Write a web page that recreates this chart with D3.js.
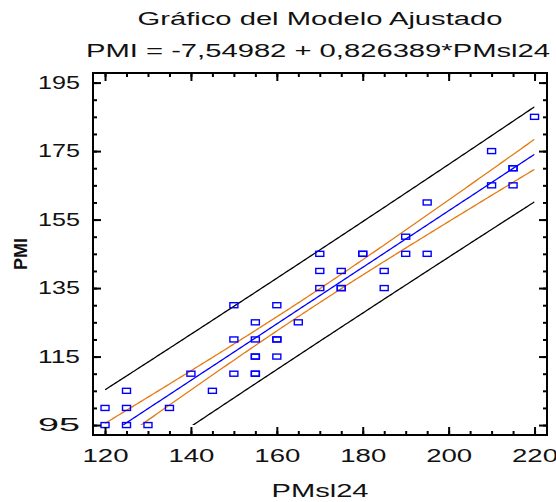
<!DOCTYPE html>
<html lang="es">
<head>
  <meta charset="UTF-8" />
  <title>Gráfico del Modelo Ajustado</title>
  <style>
    body { margin: 0; background: #fff; }
    svg { display: block; }
    text { font-family: "Liberation Sans", Arial, sans-serif; fill: #111; }
  </style>
</head>
<body>
  <div id="chart"></div>

  <script src="https://cdn.jsdelivr.net/npm/d3@7"></script>
  <script>
    // observaciones (PMsl24, PMI)
    const pmsl24 = [120, 120, 125, 125, 125, 130, 135, 140, 145, 150, 150, 150,
      155, 155, 155, 155, 155, 155, 160, 160, 160, 160, 165, 170, 170, 170,
      175, 175, 175, 180, 180, 185, 185, 190, 190, 195, 195, 210, 210, 215,
      215, 215, 220];
    const pmi = [95, 100, 95, 100, 105, 95, 100, 110, 105, 110, 120, 130,
      110, 110, 115, 115, 120, 125, 115, 120, 120, 130, 125, 135, 140, 145,
      135, 135, 140, 145, 145, 135, 140, 145, 150, 145, 160, 165, 175, 165,
      170, 170, 185];

    const xTicks = [120, 140, 160, 180, 200, 220];
    const yTicks = [95, 115, 135, 155, 175, 195];
    const xMinor = d3.range(120, 221, 5);
    const yMinor = d3.range(95, 196, 5);

    const title = "Gráfico del Modelo Ajustado";
    const subtitle = "PMI = -7,54982 + 0,826389*PMsl24";
    const xLabel = "PMsl24";
    const yLabel = "PMI";
    const tCrit = 2.0195; // t(0.975, n-2)

    const width = 556, height = 502;

    const svg = d3.select("#chart").append("svg")
      .attr("width", width)
      .attr("height", height);

    const x = d3.scaleLinear().domain([117.2, 222.9]).range([93, 547]);
    const y = d3.scaleLinear().domain([92.1, 197.8]).range([435, 73]);

    // ajuste por minimos cuadrados
    const n = pmsl24.length;
    const mx = d3.mean(pmsl24), my = d3.mean(pmi);
    let sxx = 0, sxy = 0;
    pmsl24.forEach((v, i) => {
      sxx += (v - mx) * (v - mx);
      sxy += (v - mx) * (pmi[i] - my);
    });
    const b = sxy / sxx, a = my - b * mx;
    const sse = d3.sum(pmsl24, (v, i) => (pmi[i] - a - b * v) ** 2);
    const s = Math.sqrt(sse / (n - 2));

    const grid = d3.range(120, 220.01, 0.5);
    const fit = v => a + b * v;
    const conf = v => tCrit * s * Math.sqrt(1 / n + (v - mx) ** 2 / sxx);
    const pred = v => tCrit * s * Math.sqrt(1 + 1 / n + (v - mx) ** 2 / sxx);

    const bands = [
      { f: v => fit(v) + pred(v), color: "#000" },
      { f: v => fit(v) - pred(v), color: "#000" },
      { f: v => fit(v) + conf(v), color: "#e57a12" },
      { f: v => fit(v) - conf(v), color: "#e57a12" },
      { f: fit, color: "#0000ff" }
    ];

    svg.append("clipPath").attr("id", "clip")
      .append("rect")
      .attr("x", x(120)).attr("y", y(195))
      .attr("width", x(220) - x(120)).attr("height", y(95) - y(195));

    const line = d3.line();
    svg.append("g").attr("clip-path", "url(#clip)")
      .selectAll("path")
      .data(bands)
      .join("path")
      .attr("d", d => line(grid.map(v => [x(v), y(d.f(v))])))
      .attr("fill", "none")
      .attr("stroke", d => d.color)
      .attr("stroke-width", 1.3);

    // puntos
    svg.append("g")
      .selectAll("rect")
      .data(pmsl24.map((v, i) => [v, pmi[i]]))
      .join("rect")
      .attr("x", d => x(d[0]) - 4)
      .attr("y", d => y(d[1]) - 2.5)
      .attr("width", 8)
      .attr("height", 5)
      .attr("fill", "none")
      .attr("stroke", "#0000ff")
      .attr("stroke-width", 1.4);

    // ejes: marcas hacia dentro en los cuatro lados
    const [x0, x1] = x.range(), [y0, y1] = y.range();
    const axes = [
      [d3.axisBottom, x, `translate(0,${y0})`, xMinor, xTicks, true],
      [d3.axisTop, x, `translate(0,${y1})`, xMinor, xTicks, false],
      [d3.axisLeft, y, `translate(${x0},0)`, yMinor, yTicks, true],
      [d3.axisRight, y, `translate(${x1},0)`, yMinor, yTicks, false]
    ];
    axes.forEach(([ax, sc, tr, minor, major, labels]) => {
      const gMin = svg.append("g").attr("transform", tr)
        .call(ax(sc).tickValues(minor).tickSize(-4).tickFormat(""));
      const gMaj = svg.append("g").attr("transform", tr)
        .call(ax(sc).tickValues(major).tickSize(-8)
          .tickPadding(ax === d3.axisBottom ? 14 : 13)
          .tickFormat(labels ? d3.format("d") : ""));
      [gMin, gMaj].forEach(g => {
        g.select(".domain").remove();
        g.selectAll("line").attr("stroke", "#000").attr("stroke-width", 2);
        g.selectAll("text")
          .style("font-family", "'Liberation Sans', Arial, sans-serif")
          .style("font-size", "18px")
          .attr("fill", "#111");
      });
      if (labels) {
        gMaj.selectAll("text")
          .attr("textLength", ax === d3.axisBottom ? 46 : 42)
          .attr("lengthAdjust", "spacingAndGlyphs");
      }
    });

    svg.append("rect")
      .attr("x", x0).attr("y", y1)
      .attr("width", x1 - x0).attr("height", y0 - y1)
      .attr("fill", "none")
      .attr("stroke", "#000")
      .attr("stroke-width", 2);

    // titulos
    const cx = (x0 + x1) / 2;
    svg.append("text")
      .attr("x", cx).attr("y", 25)
      .attr("text-anchor", "middle")
      .attr("font-size", 18)
      .attr("textLength", 365)
      .attr("lengthAdjust", "spacingAndGlyphs")
      .text(title);

    svg.append("text")
      .attr("x", 318).attr("y", 57)
      .attr("text-anchor", "middle")
      .attr("font-size", 18)
      .attr("textLength", 464)
      .attr("lengthAdjust", "spacingAndGlyphs")
      .text(subtitle);

    svg.append("text")
      .attr("x", cx).attr("y", 497)
      .attr("text-anchor", "middle")
      .attr("font-size", 18)
      .attr("textLength", 97)
      .attr("lengthAdjust", "spacingAndGlyphs")
      .text(xLabel);

    svg.append("text")
      .attr("transform", `translate(27,${(y0 + y1) / 2}) rotate(-90)`)
      .attr("text-anchor", "middle")
      .attr("font-size", 18)
      .attr("font-weight", "bold")
      .text(yLabel);
  </script>
</body>
</html>
